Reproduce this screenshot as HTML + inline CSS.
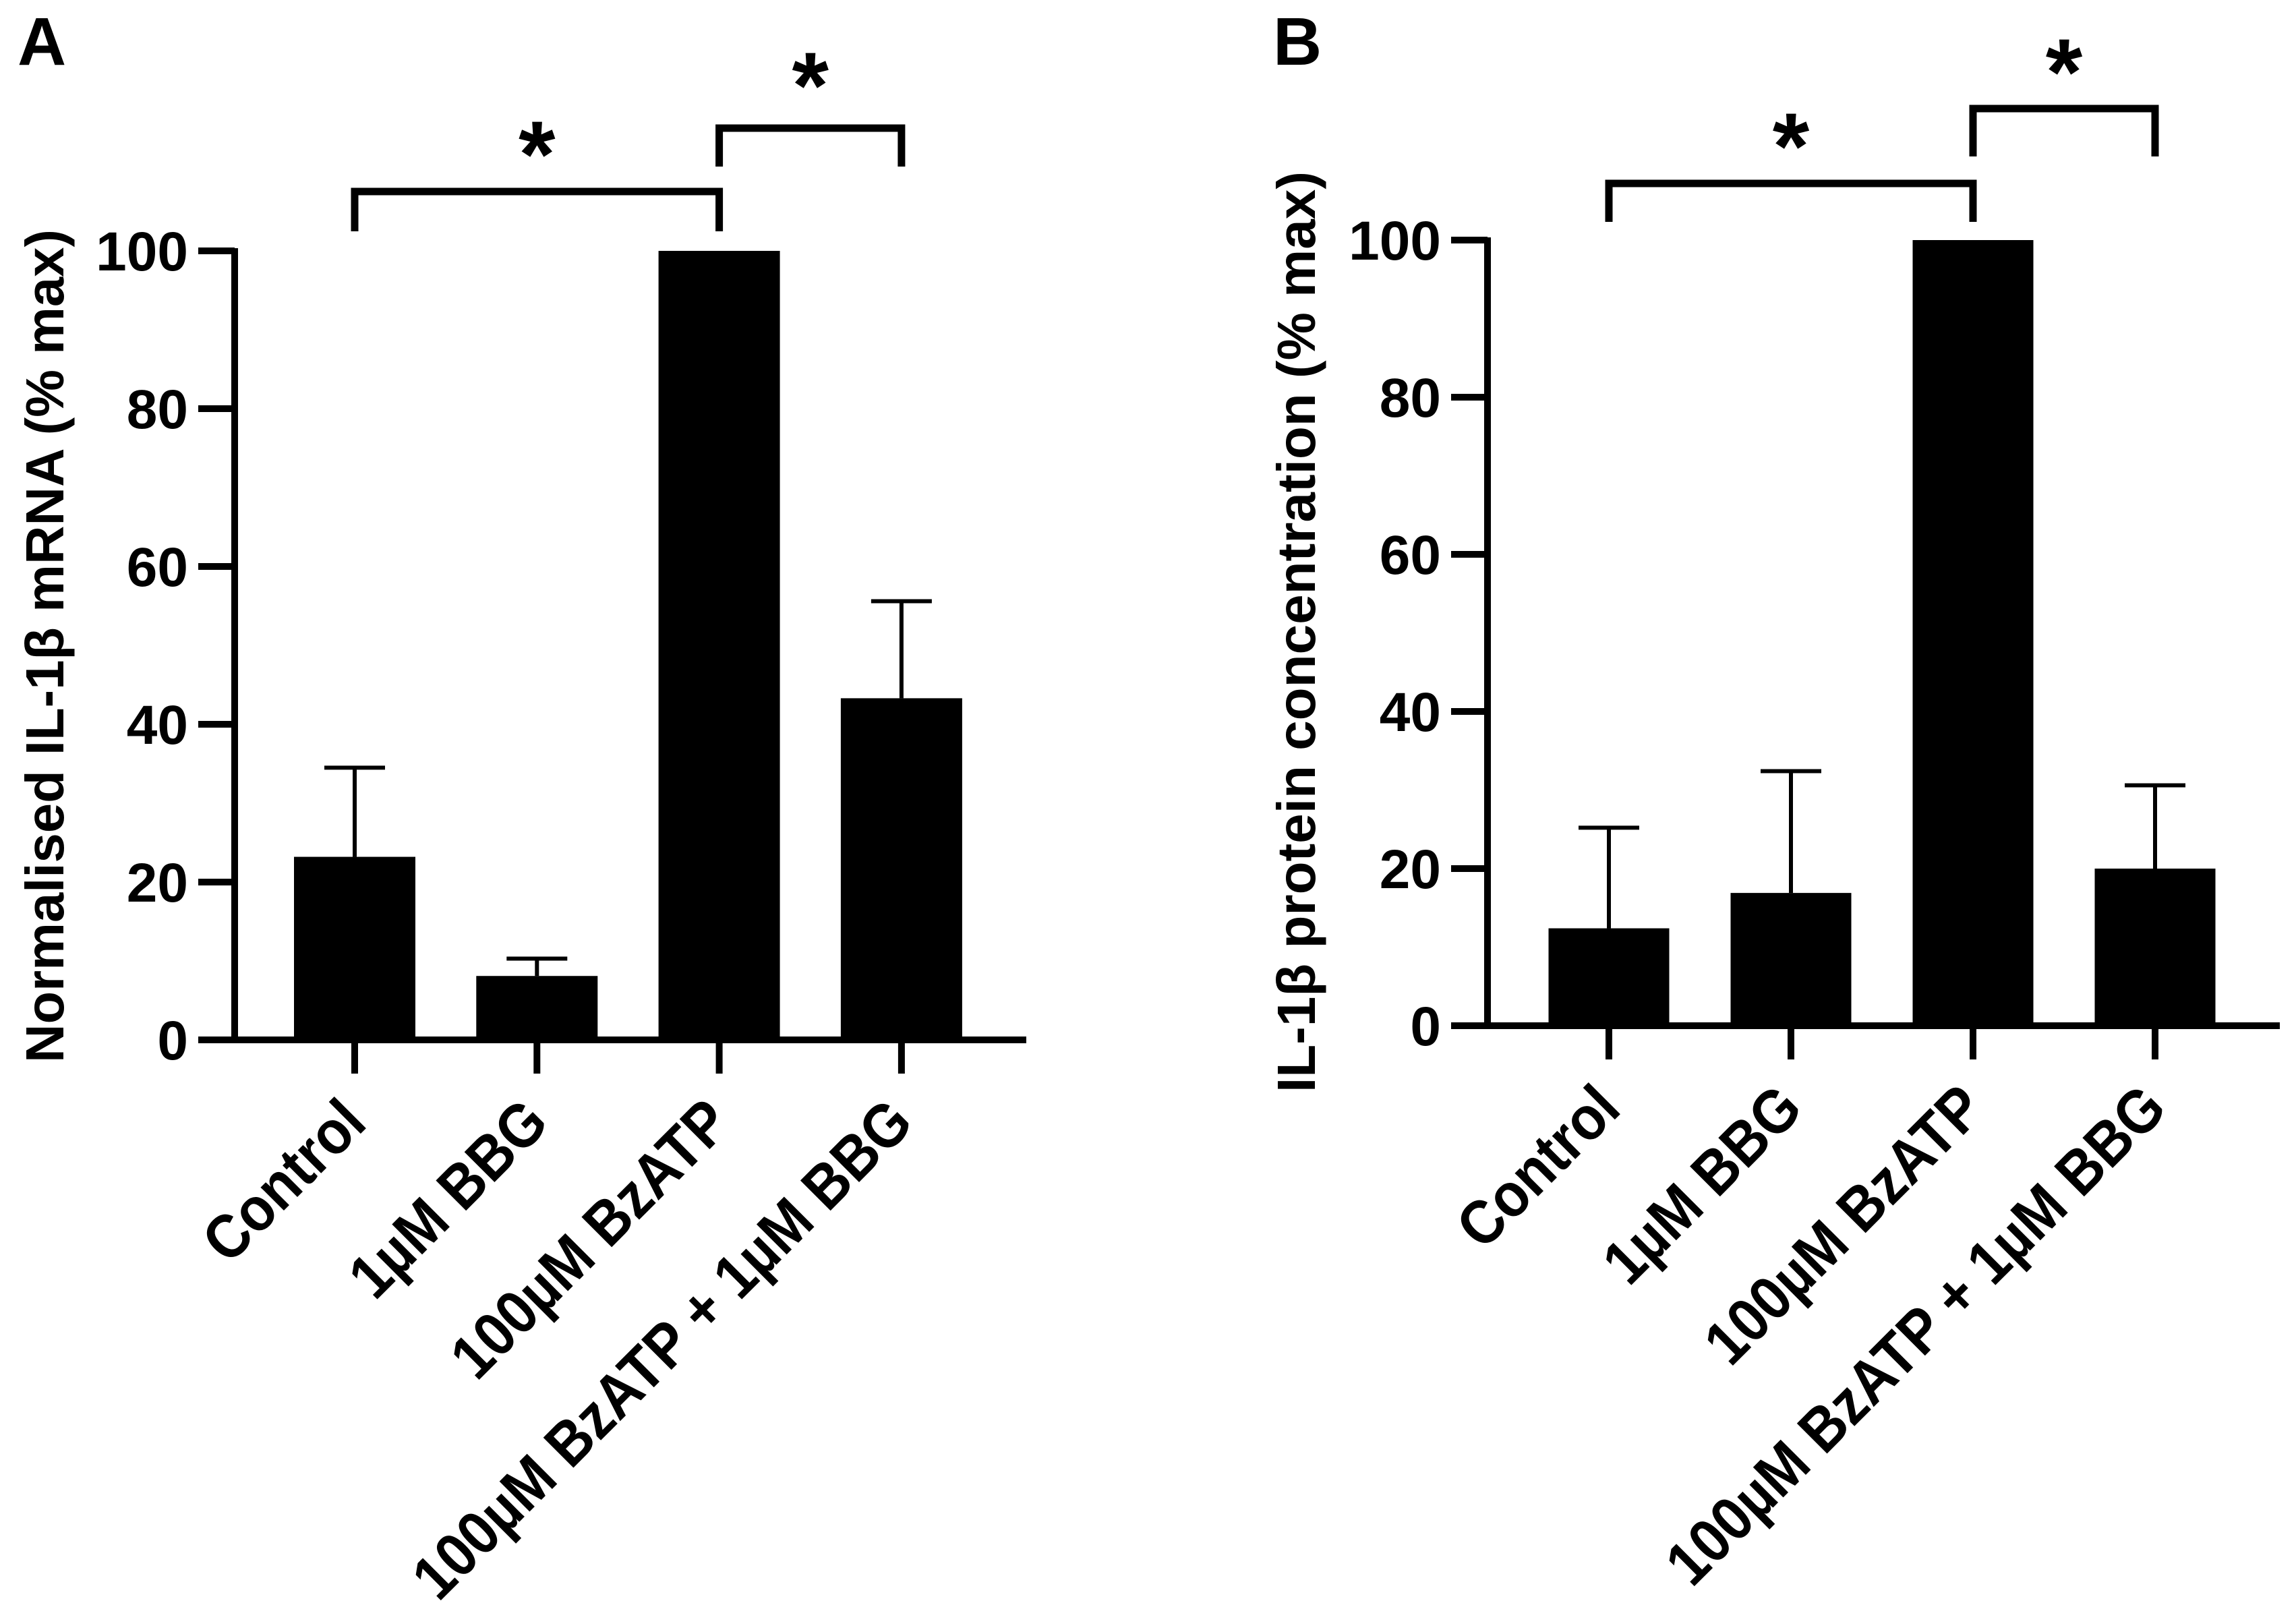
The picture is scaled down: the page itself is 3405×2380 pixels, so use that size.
<!DOCTYPE html>
<html><head><meta charset="utf-8"><style>
html,body{margin:0;padding:0;background:#fff;}
svg{display:block;font-family:"Liberation Sans",Arial,sans-serif;font-weight:bold;}
</style></head><body>
<svg id="fig" width="3405" height="2380" viewBox="0 0 3405 2380" xmlns="http://www.w3.org/2000/svg"></svg>
<script>
const categories = ["Control", "1µM BBG", "100µM BzATP", "100µM BzATP + 1µM BBG"];
const meansA = [23.2, 8.1, 100, 43.3];
const errTopA = [34.5, 10.3, 100, 55.6];
const meansB = [12.4, 16.9, 100, 20];
const errTopB = [25.2, 32.4, 100, 30.6];
const yTicks = [0, 20, 40, 60, 80, 100];
const titleA = "Normalised IL-1β mRNA (% max)";
const titleB = "IL-1β protein concentration (% max)";

const NS = "http://www.w3.org/2000/svg";
const svg = document.getElementById("fig");
function mk(tag, attrs, parent) {
  const e = document.createElementNS(NS, tag);
  for (const k in attrs) e.setAttribute(k, attrs[k]);
  (parent || svg).appendChild(e);
  return e;
}

function panel(cfg) {
  const g = mk("g", {});
  
  
  const y = v => cfg.y0 - (v / 100) * (cfg.y0 - cfg.y100);
  const x = i => cfg.x0 + i * cfg.step;

  const L = mk("text", {x: cfg.letterX, y: 96, "font-size": 100}, g);
  L.textContent = cfg.letter;
  
  

  cfg.means.forEach((m, i) => {
    const b = mk("rect", {x: x(i) - cfg.barW / 2, y: y(m), width: cfg.barW, height: y(0) - y(m), fill: "#000"}, g);
    
    
    if (cfg.errs[i] > m) {
      const e = mk("path", {d: `M${x(i)},${y(m)}V${y(cfg.errs[i])}M${x(i) - 45},${y(cfg.errs[i])}H${x(i) + 45}`, stroke: "#000", "stroke-width": 6, fill: "none"}, g);
      
      
    }
  });

  const ax = mk("path", {d: `M${cfg.axisX},${y(100) - 4}V${y(0)}M${cfg.axisX - 54},${y(0)}H${cfg.axisEnd}`, stroke: "#000", "stroke-width": 10, fill: "none"}, g);
  
  

  yTicks.forEach(t => {
    const tk = mk("line", {x1: cfg.axisX - 54, x2: cfg.axisX, y1: y(t), y2: y(t), stroke: "#000", "stroke-width": 10}, g);
    
    
    const tl = mk("text", {x: cfg.tickLabelX, y: y(t) + 29, "font-size": 82, "text-anchor": "end"}, g);
    tl.textContent = t;
    
    
  });

  categories.forEach((c, i) => {
    const tk = mk("line", {x1: x(i), x2: x(i), y1: y(0), y2: y(0) + 50, stroke: "#000", "stroke-width": 10}, g);
    
    
    const lx = x(i) + 21, ly = y(0) + 127;
    const tl = mk("text", {x: 0, y: 0, "font-size": 92, "text-anchor": "end", transform: `translate(${lx},${ly}) rotate(-45) scale(0.9,1)`}, g);
    tl.textContent = c;
    
    
  });

  const tt = mk("text", {x: 0, y: 0, "font-size": 80, "text-anchor": "middle", textLength: cfg.titleLen, lengthAdjust: "spacingAndGlyphs",
    transform: `translate(${cfg.titleX},${cfg.titleY}) rotate(-90)`}, g);
  tt.textContent = cfg.title;
  
  

  cfg.brackets.forEach((br, k) => {
    const p = mk("path", {d: `M${x(br.a)},${br.leg}V${br.top}H${x(br.b)}V${br.leg}`, stroke: "#000", "stroke-width": 11, fill: "none"}, g);
    
    
    const s = mk("text", {x: (x(br.a) + x(br.b)) / 2, y: br.star + 66, "font-size": 140, "text-anchor": "middle"}, g);
    s.textContent = "*";
    
    
  });
}

panel({name: "panel-a", letter: "A", letterX: 26, y0: 1542, y100: 372, x0: 526, step: 270.3, barW: 180,
  axisX: 348, axisEnd: 1522, tickLabelX: 279, means: meansA, errs: errTopA,
  title: titleA, titleX: 94, titleY: 958, titleLen: 1236,
  brackets: [{a: 0, b: 2, top: 284, leg: 343, star: 211}, {a: 2, b: 3, top: 190, leg: 247, star: 109}]});

panel({name: "panel-b", letter: "B", letterX: 1888, y0: 1521, y100: 356, x0: 2386, step: 270, barW: 179,
  axisX: 2206, axisEnd: 3381, tickLabelX: 2137, means: meansB, errs: errTopB,
  title: titleB, titleX: 1950, titleY: 937, titleLen: 1366,
  brackets: [{a: 0, b: 2, top: 272, leg: 329, star: 199}, {a: 2, b: 3, top: 161, leg: 232, star: 89}]});
</script>
</body></html>
